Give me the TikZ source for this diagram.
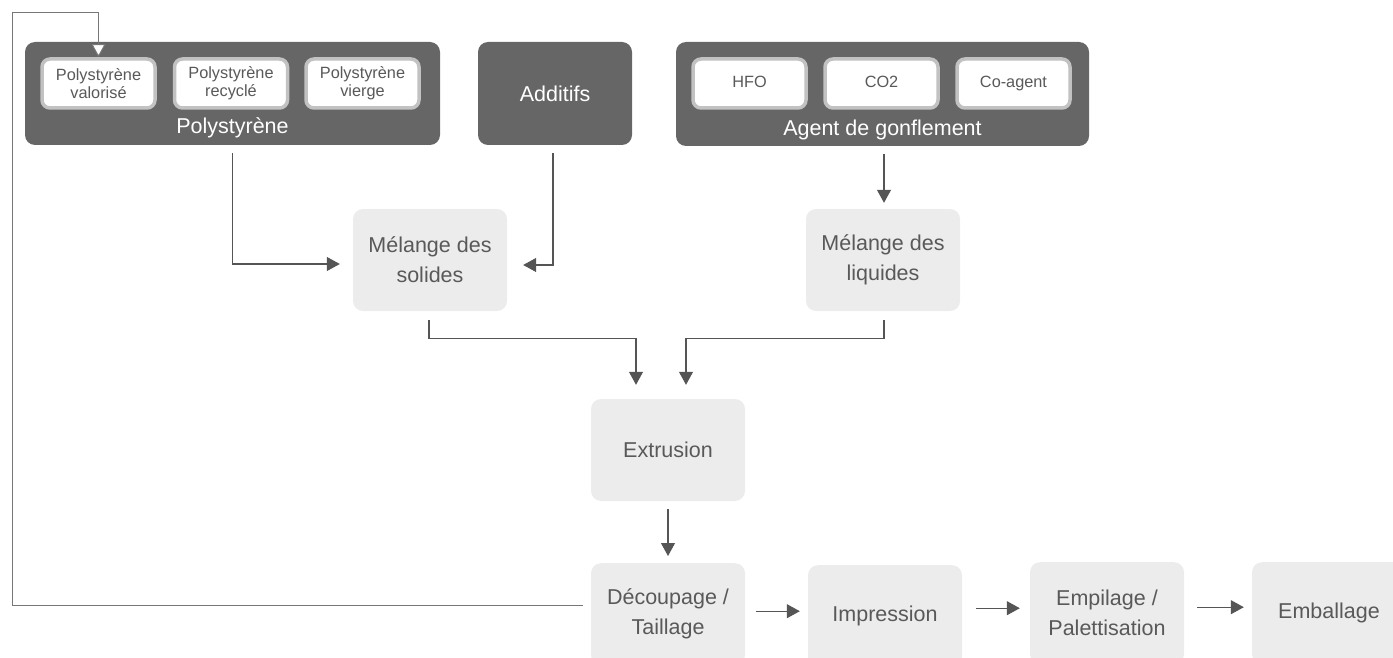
\documentclass[tikz,border=0pt]{standalone}
\usepackage{fontspec}
\setmainfont{Liberation Sans}
\usetikzlibrary{arrows.meta}
\definecolor{darkbox}{HTML}{666666}
\definecolor{lightbox}{HTML}{ECECEC}
\definecolor{innerborder}{HTML}{C2C2C2}
\definecolor{txtgray}{HTML}{595959}
\definecolor{linegray}{HTML}{555555}
\tikzset{
  darkstyle/.style={fill=darkbox, draw=none, rounded corners=10pt, text=white, inner sep=0pt},
  innerstyle/.style={fill=white, draw=innerborder, line width=3.5pt, rounded corners=8pt,
     minimum width=113pt, minimum height=49pt, text=txtgray, align=center, inner sep=0pt,
     font=\fontsize{16.3}{18}\selectfont},
  stepbox/.style={fill=lightbox, draw=none, rounded corners=10pt, minimum width=154pt,
     minimum height=102pt, text=txtgray, align=center, inner sep=0pt,
     font=\fontsize{21.5}{30}\selectfont},
  conn/.style={draw=linegray, line width=1.1pt, -{Triangle[length=13pt,width=14pt]}},
  fbline/.style={draw=linegray!80, line width=1pt, -{Triangle[open,length=13pt,width=14pt,fill=white]}},
  biglabel/.style={text=white, font=\fontsize{21.5}{26}\selectfont, inner sep=0pt}
}
\begin{document}
\begin{tikzpicture}[x=1pt,y=-1pt]
\useasboundingbox (0,0) rectangle (1393,658);
% dark group boxes
\node[darkstyle, minimum width=415pt, minimum height=103pt] (poly) at (232.5,93.5) {};
\node[darkstyle, minimum width=154pt, minimum height=103pt, font=\fontsize{21.5}{26}\selectfont] (add) at (555,93.5) {Additifs};
\node[darkstyle, minimum width=413pt, minimum height=104pt] (agent) at (882.5,94) {};
\node[biglabel] (polylab) at (232.5,128) {Polystyrène};
\node[biglabel] (agentlab) at (882.5,130) {Agent de gonflement};
% inner boxes
\node[innerstyle] (val) at (98.5,83.5) {Polystyrène\\valorisé};
\node[innerstyle] (rec) at (231,83.5) {Polystyrène\\recyclé};
\node[innerstyle] (vie) at (362.5,83.5) {Polystyrène\\vierge};
\node[innerstyle] (hfo) at (749.5,83.5) {\raisebox{3pt}{HFO}};
\node[innerstyle] (co2) at (881.5,83.5) {\raisebox{3pt}{CO2}};
\node[innerstyle] (coag) at (1013.5,83.5) {\raisebox{3pt}{Co-agent}};
% process boxes
\node[stepbox] (sol) at (430,260) {Mélange des\\solides};
\node[stepbox] (liq) at (883,260) {Mélange des\\liquides};
\node[stepbox] (ext) at (668,450) {Extrusion};
\node[stepbox, anchor=north] (dec) at (668,563) {Découpage /\\Taillage};
\node[stepbox, anchor=north] (imp) at (885,565) {\raisebox{-3pt}{Impression}};
\node[stepbox, anchor=north] (emp) at (1107,562) {Empilage /\\Palettisation};
\node[stepbox, anchor=north] (emb) at (1329,562) {Emballage};
% connectors
\draw[conn] ([yshift=-8pt]poly.south) |- ([xshift=-13pt,yshift=-4pt]sol.west);
\draw[conn] ([xshift=-2pt,yshift=-8pt]add.south) |- ([xshift=16pt,yshift=-5pt]sol.east);
\draw[conn] ([xshift=1.5pt,yshift=-8pt]agent.south) -- ([xshift=1pt,yshift=6pt]liq.north);
\draw[conn] ([xshift=-1pt,yshift=-9pt]sol.south) -- ++(0,18) -| ([xshift=-32pt,yshift=14pt]ext.north);
\draw[conn] ([xshift=1pt,yshift=-9pt]liq.south) -- ++(0,18) -| ([xshift=18pt,yshift=14pt]ext.north);
\draw[conn] ([yshift=-8pt]ext.south) -- ([yshift=7pt]dec.north);
\draw[conn] ([xshift=11pt,yshift=3pt]dec.east) -- ([xshift=-8pt,yshift=5pt]imp.west);
\draw[conn] ([xshift=14pt,yshift=8pt]imp.east) -- ([xshift=-10pt,yshift=5pt]emp.west);
\draw[conn] ([xshift=13pt,yshift=6pt]emp.east) -- ([xshift=-8pt,yshift=6pt]emb.west);
% feedback loop
\coordinate (fbB) at (12,13);
\draw[fbline] ([xshift=-8pt,yshift=9pt]dec.west) -| (fbB) -| (val.north);
\end{tikzpicture}
\end{document}
